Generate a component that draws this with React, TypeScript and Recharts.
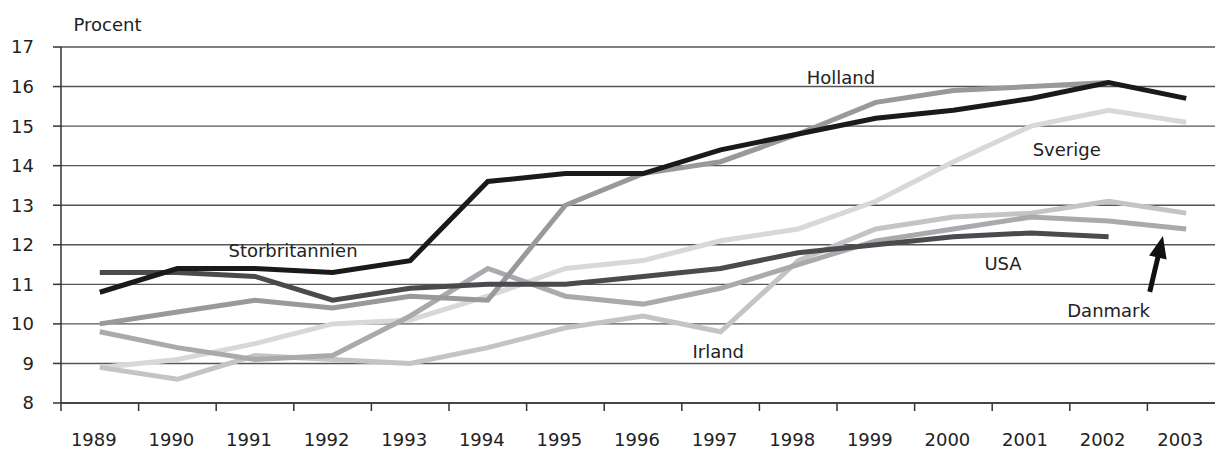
import {
  LineChart,
  Line,
  XAxis,
  YAxis,
  CartesianGrid,
  ReferenceDot,
  ReferenceLine,
} from 'recharts'

const YEARS = ['1989', '1990', '1991', '1992', '1993', '1994', '1995', '1996', '1997', '1998', '1999', '2000', '2001', '2002', '2003']

const STORBRITANNIEN = [10.8, 11.4, 11.4, 11.3, 11.6, 13.6, 13.8, 13.8, 14.4, 14.8, 15.2, 15.4, 15.7, 16.1, 15.7]
const USA = [11.3, 11.3, 11.2, 10.6, 10.9, 11.0, 11.0, 11.2, 11.4, 11.8, 12.0, 12.2, 12.3, 12.2, null]
const HOLLAND = [10.0, 10.3, 10.6, 10.4, 10.7, 10.6, 13.0, 13.8, 14.1, 14.8, 15.6, 15.9, 16.0, 16.1, null]
const DANMARK = [9.8, 9.4, 9.1, 9.2, 10.2, 11.4, 10.7, 10.5, 10.9, 11.5, 12.1, 12.4, 12.7, 12.6, 12.4]
const IRLAND = [8.9, 8.6, 9.2, 9.1, 9.0, 9.4, 9.9, 10.2, 9.8, 11.6, 12.4, 12.7, 12.8, 13.1, 12.8]
const SVERIGE = [8.9, 9.1, 9.5, 10.0, 10.1, 10.7, 11.4, 11.6, 12.1, 12.4, 13.1, 14.1, 15.0, 15.4, 15.1]

const Y_TICKS = [8, 9, 10, 11, 12, 13, 14, 15, 16, 17]
const X_TICKS = YEARS.map((_, i) => i).concat(YEARS.length)

// label anchors in chart units (x = band position, y = percent)
const LABELS = [
  { text: 'Storbritannien', x: 2.99, y: 11.7 },
  { text: 'Holland', x: 10.05, y: 16.07 },
  { text: 'Sverige', x: 12.96, y: 14.25 },
  { text: 'USA', x: 12.14, y: 11.36 },
  { text: 'Danmark', x: 13.5, y: 10.17 },
  { text: 'Irland', x: 8.47, y: 9.13 },
]

const CHART_W = 1232
const CHART_H = 450
const MARGIN = { top: 47, right: 7, bottom: 0, left: 0 }
const Y_AXIS_W = 61
const X_AXIS_H = 47
const BAND = (CHART_W - MARGIN.left - MARGIN.right - Y_AXIS_W) / YEARS.length
const FONT = '"DejaVu Sans", sans-serif'
const TEXT = '#222'

const data = YEARS.map((year, i) => ({
  pos: i + 0.5,
  year,
  storbritannien: STORBRITANNIEN[i],
  usa: USA[i],
  holland: HOLLAND[i],
  danmark: DANMARK[i],
  irland: IRLAND[i],
  sverige: SVERIGE[i],
}))

function YearTick({ x, y, payload }: any) {
  const label = YEARS[payload.value]
  if (!label) return <g />
  return (
    <text x={x + BAND / 2 - 6} y={y + 32.5} textAnchor="middle" fill={TEXT} fontSize={18} fontFamily={FONT}>
      {label}
    </text>
  )
}

function SeriesLabel(text: string) {
  return (p: any) => (
    <text x={p.cx} y={p.cy} textAnchor="middle" fill={TEXT} fontSize={18} fontFamily={FONT}>
      {text}
    </text>
  )
}

function Arrow({ x1, y1, x2, y2 }: any) {
  const dx = x2 - x1
  const dy = y2 - y1
  const len = Math.sqrt(dx * dx + dy * dy)
  const ux = dx / len
  const uy = dy / len
  const headLen = 22
  const headW = 9
  const bx = x2 - ux * headLen
  const by = y2 - uy * headLen
  return (
    <g>
      <line x1={x1} y1={y1} x2={bx + ux * 2} y2={by + uy * 2} stroke="#111" strokeWidth={5} />
      <polygon
        points={`${x2},${y2} ${bx - uy * headW},${by + ux * headW} ${bx + uy * headW},${by - ux * headW}`}
        fill="#111"
      />
    </g>
  )
}

const lineProps = {
  type: 'linear' as const,
  dot: false,
  activeDot: false,
  isAnimationActive: false,
  strokeWidth: 5,
}

export default function App() {
  return (
    <div style={{ position: 'absolute', left: 0, top: 0, width: 1215, height: 450, overflow: 'hidden', background: '#fff', fontFamily: FONT }}>
      <LineChart width={CHART_W} height={CHART_H} data={data} margin={MARGIN}>
        <CartesianGrid vertical={false} stroke="#555" strokeWidth={1.4} />
        <XAxis
          type="number"
          dataKey="pos"
          domain={[0, YEARS.length]}
          ticks={X_TICKS}
          interval={0}
          height={X_AXIS_H}
          tickSize={8}
          tickMargin={2}
          axisLine={{ stroke: '#333', strokeWidth: 1.5 }}
          tickLine={{ stroke: '#333', strokeWidth: 1.5 }}
          tick={<YearTick />}
        />
        <YAxis
          type="number"
          domain={[8, 17]}
          ticks={Y_TICKS}
          interval={0}
          width={Y_AXIS_W}
          tickSize={8}
          tickMargin={19}
          axisLine={{ stroke: '#333', strokeWidth: 1.5 }}
          tickLine={{ stroke: '#333', strokeWidth: 1.5 }}
          tick={{ fill: TEXT, fontSize: 18, fontFamily: FONT }}
        />
        <Line {...lineProps} dataKey="sverige" stroke="#d8d8d8" />
        <Line {...lineProps} dataKey="irland" stroke="#c4c4c4" />
        <Line {...lineProps} dataKey="danmark" stroke="#aaaaae" />
        <Line {...lineProps} dataKey="holland" stroke="#999999" />
        <Line {...lineProps} dataKey="usa" stroke="#4a4a4f" />
        <Line {...lineProps} dataKey="storbritannien" stroke="#1a1a1a" />
        {LABELS.map((l) => (
          <ReferenceDot key={l.text} x={l.x} y={l.y} r={0} ifOverflow="visible" shape={SeriesLabel(l.text)} />
        ))}
        <ReferenceDot x={0.6} y={17.41} r={0} ifOverflow="visible" shape={SeriesLabel('Procent')} />
        <ReferenceLine
          segment={[{ x: 14.03, y: 10.81 }, { x: 14.2, y: 12.22 }]}
          ifOverflow="visible"
          shape={(p: any) => <Arrow {...p} />}
        />
      </LineChart>
    </div>
  )
}
